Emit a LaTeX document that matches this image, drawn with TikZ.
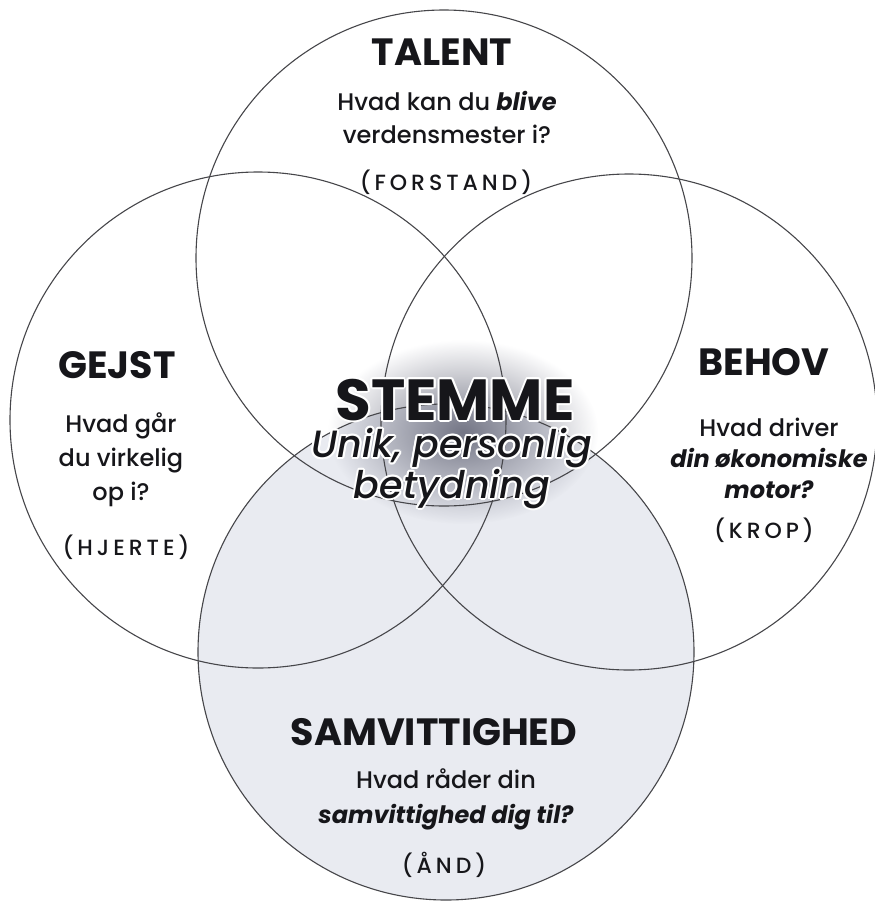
\documentclass[tikz,border=0pt]{standalone}
\usepackage{fontspec}
\setmainfont{Poppins}[UprightFont=* Medium, ItalicFont=* Medium Italic, BoldFont=* Bold, BoldItalicFont=* Bold Italic]
\usetikzlibrary{positioning, calc, fadings, backgrounds}
\definecolor{ringline}{RGB}{70,70,74}
\definecolor{ringfill}{RGB}{233,235,241}
\definecolor{blobgray}{RGB}{110,112,128}
\definecolor{inkblack}{RGB}{22,22,26}
\tikzfading[name=softblob, inner color=transparent!5, outer color=transparent!100]

\begin{document}
\begin{tikzpicture}[x=1pt, y=-1pt,
        % --- Styles ---
        ring/.style={draw=ringline, line width=1.1pt, circle, minimum size=496pt, inner sep=0pt},
        titletext/.style={font=\fontsize{38}{40}\selectfont\bfseries, text=inkblack, inner sep=0pt, anchor=base},
        asktext/.style={font=\fontsize{24}{33}\selectfont, align=center, text=inkblack, inner sep=0pt, anchor=base},
        tagtext/.style={font=\fontsize{22}{24}\selectfont\addfontfeatures{LetterSpace=18}, text=inkblack, inner sep=0pt, anchor=base},
        voicetext/.style={font=\fontsize{58}{60}\selectfont\bfseries, inner sep=0pt, anchor=base},
        meantext/.style={font=\fontsize{38}{33}\selectfont\itshape, align=center, inner sep=0pt, anchor=base}
    ]

    \useasboundingbox (0,0) rectangle (875,906);

    % --- 1. RINGS ---
    \node[ring] (talent) at (444,258) {};
    \node[ring] (gejst) at (258,420) {};
    \node[ring] (behov) at (629,422) {};
    \node[ring] (samv) at (446,652) {};

    \begin{scope}[on background layer]
        \fill[ringfill] (samv.center) circle[radius=248pt];
        \fill[blobgray, path fading=softblob]
            (463,432) ellipse[x radius=135pt, y radius=92pt];
    \end{scope}

    % --- 2. TEXTS (multi-line nodes sit on their last baseline) ---
    \node[titletext] (talenttitle) at (442,65) {TALENT};
    \node[asktext] (talentask) at (447,143) {Hvad kan du \textbf{\textit{blive}}\\ verdensmester i?};
    \node[tagtext] (talenttag) at (446,190) {(FORSTAND)};

    \node[titletext] (gejsttitle) at (117,378) {GEJST};
    \node[asktext, font=\fontsize{24}{34}\selectfont] (gejstask) at (121,500) {Hvad går\\ du virkelig\\ op i?};
    \node[tagtext] (gejsttag) at (126,555) {(HJERTE)};

    \node[titletext] (behovtitle) at (764,375) {BEHOV};
    \node[asktext, font=\fontsize{24}{31}\selectfont] (behovask) at (769,498) {Hvad driver\\ \textbf{\textit{din økonomiske}}\\ \textbf{\textit{motor?}}};
    \node[tagtext] (behovtag) at (764,538) {(KROP)};

    \node[titletext] (samvtitle) at (434,745) {SAMVITTIGHED};
    \node[asktext, font=\fontsize{24}{35}\selectfont] (samvask) at (446,823) {Hvad råder din\\ \textbf{\textit{samvittighed dig til?}}};
    \node[tagtext] (samvtag) at (444,873) {(ÅND)};

    % --- 3. CENTRE (white halo first) ---
    \coordinate (voicepos) at (455,420);
    \coordinate (meanpos) at (452,498);
    \foreach \a in {0,30,...,330} {
        \node[voicetext, text=white] (voicehalo\a) at ($(voicepos)+(\a:2)$) {STEMME};
        \node[meantext, text=white] (meanhalo\a) at ($(meanpos)+(\a:2)$) {Unik, personlig\\ betydning};
    }
    \node[voicetext, text=inkblack] (voice) at (voicepos) {STEMME};
    \node[meantext, text=inkblack] (meaning) at (meanpos) {Unik, personlig\\ betydning};

\end{tikzpicture}
\end{document}
